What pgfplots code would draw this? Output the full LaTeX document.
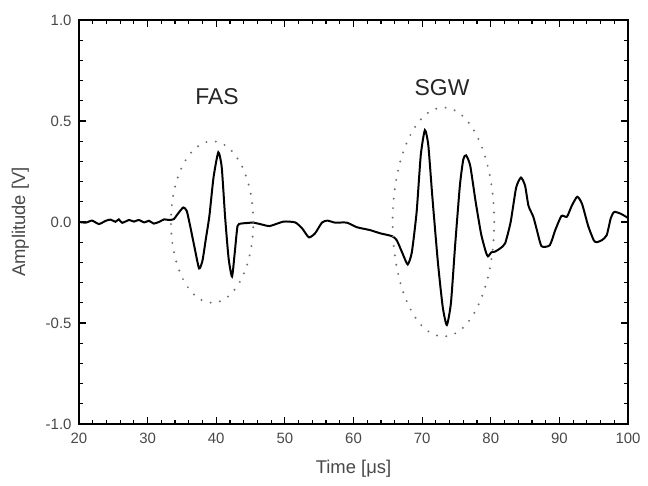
\documentclass[border=0pt]{standalone}
\usepackage{fontspec}
\setmainfont{Liberation Sans}
\usepackage{pgfplots}
\pgfplotsset{compat=1.18}
\definecolor{tickgray}{HTML}{484848}
\definecolor{dotgray}{HTML}{707070}
\begin{document}
\begin{tikzpicture}
\begin{axis}[
  scale only axis,
  width=549bp, height=404bp,
  xmin=20, xmax=100, ymin=-1, ymax=1,
  xtick={20,30,40,50,60,70,80,90,100},
  xticklabels={20,30,40,50,60,70,80,90,100},
  ytick={-1,-0.5,0,0.5,1},
  yticklabels={-1.0,-0.5,0.0,0.5,1.0},
  minor x tick num=4,
  minor y tick num=4,
  tick align=inside,
  xtick pos=both, ytick pos=both,
  major tick length=7bp,
  minor tick length=4bp,
  tick style={black, line width=1.2pt},
  axis line style={black, line width=1.2pt},
  ticklabel style={font=\fontsize{15}{17}\selectfont, text=tickgray},
  xticklabel style={yshift=-6bp},
  yticklabel style={xshift=-4bp},
  xlabel={Time [μs]},
  ylabel={Amplitude [V]},
  label style={font=\fontsize{18.5}{20}\selectfont, text=tickgray},
  xlabel style={yshift=-9bp},
  ylabel style={yshift=10bp},
]
\addplot[black, line width=2pt, smooth, tension=0.35] coordinates {
(20.0,0.000) (21.0,-0.003) (21.9,0.007) (22.9,-0.010) (23.9,0.006) (24.6,0.012)
(25.3,0.001) (25.8,0.013) (26.3,-0.004) (27.3,0.010) (28.0,0.002) (28.7,0.010)
(29.5,-0.002) (30.2,0.006) (30.9,-0.008) (31.7,0.001) (32.4,0.013) (33.1,0.010)
(33.8,0.014) (34.5,0.045) (35.2,0.072) (35.7,0.055) (36.2,-0.02) (36.8,-0.12)
(37.5,-0.23) (38.0,-0.19) (38.5,-0.08) (39.0,0.03) (39.6,0.22) (40.3,0.345)
(40.8,0.27) (41.3,0.02) (41.8,-0.18) (42.3,-0.27) (42.7,-0.15) (43.1,-0.02)
(43.6,-0.008) (44.5,-0.005) (45.4,-0.003) (46.6,-0.012) (47.8,-0.02) (49.8,0.002)
(51.5,-0.002) (52.5,-0.031) (53.5,-0.076) (54.4,-0.056) (55.4,-0.003) (56.2,0.007)
(57.3,-0.003) (59.0,-0.003) (60.5,-0.026) (62.4,-0.04) (63.9,-0.056) (65.6,-0.07)
(66.3,-0.09) (67.2,-0.16) (67.9,-0.21) (68.5,-0.15) (69.2,0.05) (69.8,0.33)
(70.4,0.455) (70.9,0.38) (71.5,0.12) (72.3,-0.2) (73.0,-0.42) (73.6,-0.51)
(74.2,-0.40) (74.8,-0.12) (75.5,0.18) (76.0,0.31) (76.4,0.33) (77.0,0.28)
(77.8,0.10) (78.6,-0.06) (79.3,-0.15) (79.6,-0.17) (80.1,-0.15) (80.6,-0.147)
(81.4,-0.13) (82.1,-0.105) (82.9,0.0) (83.7,0.17) (84.4,0.22) (85.0,0.18)
(85.5,0.08) (86.2,0.026) (86.8,-0.05) (87.4,-0.12) (88.6,-0.115) (89.4,-0.04)
(90.3,0.03) (91.1,0.026) (91.8,0.08) (92.6,0.125) (93.3,0.09) (94.2,-0.02)
(95.0,-0.09) (95.4,-0.10) (96.2,-0.09) (96.9,-0.065) (97.5,0.02) (98.0,0.05)
(99.0,0.04) (100,0.02)
};
\draw[dotgray, line width=2.2pt, line cap=round, dash pattern=on 0pt off 9.5pt]
  (axis cs:39.4,0) ellipse [x radius=6, y radius=0.40];
\draw[dotgray, line width=2.2pt, line cap=round, dash pattern=on 0pt off 9.5pt]
  (axis cs:73.1,0) ellipse [x radius=7.4, y radius=0.567];
\node[font=\fontsize{23}{25}\selectfont, text=black!85] at (axis cs:40.1,0.62) {FAS};
\node[font=\fontsize{23}{25}\selectfont, text=black!85] at (axis cs:72.9,0.665) {SGW};
\end{axis}
\path (current axis.south west) ++(-79bp,-61bp);
\path (current axis.north east) ++(20bp,20bp);
\end{tikzpicture}
\end{document}
